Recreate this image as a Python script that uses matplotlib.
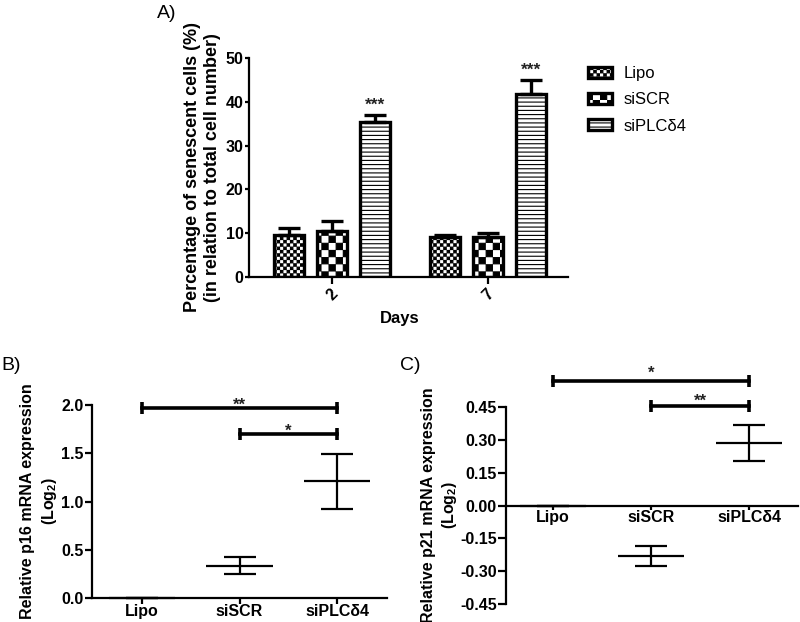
import numpy as np
import matplotlib
matplotlib.use("Agg")
import matplotlib.pyplot as plt
import matplotlib.hatch as mhatch
from matplotlib.path import Path

# ---------------- data ----------------
days = ["2", "7"]
groups = ["Lipo", "siSCR", "siPLCδ4"]
senescent_mean = {"Lipo": [9.7, 9.1], "siSCR": [10.5, 9.1], "siPLCδ4": [35.3, 41.8]}
senescent_err = {"Lipo": [1.5, 0.55], "siSCR": [2.35, 1.05], "siPLCδ4": [1.6, 3.1]}
senescent_stars = ["***", "***"]

p16_mean = [0.0, 0.335, 1.21]
p16_err = [0.0, 0.087, 0.285]
p16_yticks = [0.0, 0.5, 1.0, 1.5, 2.0]
p16_yticklabels = ["0.0", "0.5", "1.0", "1.5", "2.0"]
p16_brackets = [(0, 2, 1.97, "**"), (1, 2, 1.70, "*")]

p21_mean = [0.0, -0.230, 0.285]
p21_err = [0.0, 0.046, 0.081]
p21_yticks = [0.45, 0.30, 0.15, 0.00, -0.15, -0.30, -0.45]
p21_yticklabels = ["0.45", "0.30", "0.15", "0.00", "-0.15", "-0.30", "-0.45"]
p21_brackets = [(0, 2, 0.570, "*"), (1, 2, 0.456, "**")]

# ---------------- custom checker hatches ----------------
class _Checker(mhatch.HatchPatternBase):
    char = "o"
    cells = 30
    margin = 0.0045

    def __init__(self, hatch, density):
        self.n = self.cells if (hatch and self.char in hatch) else 0
        self.num_vertices = (self.n * self.n // 2) * 5

    def set_vertices_and_codes(self, vertices, codes):
        n = self.n
        s = 1.0 / n
        m = self.margin
        k = 0
        for i in range(n):
            for j in range(n):
                if (i + j) % 2 == 0:
                    x0, y0 = i * s + m, j * s + m
                    x1, y1 = (i + 1) * s - m, (j + 1) * s - m
                    vertices[k:k + 5] = [[x0, y0], [x1, y0], [x1, y1], [x0, y1], [x0, y0]]
                    codes[k:k + 5] = [Path.MOVETO, Path.LINETO, Path.LINETO,
                                      Path.LINETO, Path.CLOSEPOLY]
                    k += 5


class _CheckerSmall(_Checker):
    char = "o"
    cells = 30


class _CheckerLarge(_Checker):
    char = "O"
    cells = 14


mhatch._hatch_types = [mhatch.HorizontalHatch, _CheckerSmall, _CheckerLarge]

plt.rcParams["font.family"] = ["Liberation Sans", "DejaVu Sans"]
plt.rcParams["hatch.linewidth"] = 0.8
plt.rcParams["mathtext.fontset"] = "custom"
plt.rcParams["mathtext.rm"] = "Liberation Sans"
plt.rcParams["mathtext.bf"] = "Liberation Sans:bold"

W, H = 800, 622
fig = plt.figure(figsize=(8, 6.22), dpi=100)


def axes_px(left, right, top, bottom):
    return fig.add_axes([left / W, 1 - bottom / H, (right - left) / W, (bottom - top) / H])


def bold_ticks(ax, size=11.5):
    for lab in ax.get_xticklabels() + ax.get_yticklabels():
        lab.set_fontweight("bold")
        lab.set_fontsize(size)


# ---------------- Panel A ----------------
axA = axes_px(249, 568, 58, 277)
hatches = {"Lipo": "o", "siSCR": "O", "siPLCδ4": "----"}
offsets = [-0.276, 0.0, 0.276]
width = 0.19
xg = np.arange(len(days))
for g, off in zip(groups, offsets):
    axA.bar(xg + off, senescent_mean[g], width, facecolor="white", edgecolor="black",
            linewidth=2.4, hatch=hatches[g], label=g, zorder=2)
    axA.errorbar(xg + off, senescent_mean[g],
                 yerr=[np.zeros(len(days)), senescent_err[g]],
                 fmt="none", ecolor="black", elinewidth=2.4, capsize=8, capthick=2.4, zorder=3)
top_means = np.array(senescent_mean["siPLCδ4"]) + np.array(senescent_err["siPLCδ4"])
for xi, yv, s in zip(xg + offsets[2], top_means, senescent_stars):
    axA.annotate(s, (xi, yv), xytext=(0, 4), textcoords="offset points",
                 ha="center", va="baseline", fontsize=12.5, fontweight="bold", color="#222222")
axA.set_xlim(-0.532, 1.513)
axA.set_ylim(0, 50)
axA.set_yticks([0, 10, 20, 30, 40, 50])
axA.set_xticks(xg)
axA.set_xticklabels(days, rotation=45, ha="center")
for sp in ["top", "right"]:
    axA.spines[sp].set_visible(False)
for sp in ["left", "bottom"]:
    axA.spines[sp].set_linewidth(1.6)
axA.tick_params(axis="y", length=3, width=1.6, pad=1)
axA.tick_params(axis="x", length=5, width=1.6, pad=2)
bold_ticks(axA, 11.5)
axA.set_xlabel("Days", fontsize=12, fontweight="bold")
axA.xaxis.set_label_coords((400 - 249) / (568 - 249), (277 - 319) / (277 - 58))
axA.xaxis.label.set_va("center")
axA.set_ylabel("Percentage of senescent cells (%)\n(in relation to total cell number)",
               fontsize=13, fontweight="bold", linespacing=1.2, va="center")
axA.yaxis.set_label_coords((202.5 - 249) / (568 - 249), 0.5)
leg = axA.legend(loc="upper left", bbox_to_anchor=(588 / W, 1 - 66 / H),
                 bbox_transform=fig.transFigure, frameon=False, fontsize=12,
                 handlelength=1.45, handleheight=0.65, handletextpad=0.7,
                 labelspacing=0.68, borderpad=0, borderaxespad=0)

# ---------------- Panel B / C helper ----------------
def dot_panel(ax, means, errs, brackets, star_offsets):
    x = np.arange(len(groups))
    ax.hlines(means, x - 0.34, x + 0.34, colors="black", linewidth=1.6, clip_on=False, zorder=3)
    ax.errorbar(x, means, yerr=errs, fmt="none", ecolor="black", elinewidth=1.6,
                capsize=11.5, capthick=1.6, zorder=3, clip_on=False)
    for (a, b, y, s), so in zip(brackets, star_offsets):
        ax.plot([a, b], [y, y], color="black", linewidth=2.6, marker="|",
                markersize=9, markeredgewidth=2.6, clip_on=False, zorder=4)
        ax.annotate(s, ((a + b) / 2, y), xytext=(0, so), textcoords="offset points",
                    ha="center", va="baseline", fontsize=12, fontweight="bold",
                    color="#222222", annotation_clip=False)
    ax.set_xticks(x)
    ax.set_xticklabels(groups)
    for sp in ["top", "right"]:
        ax.spines[sp].set_visible(False)
    for sp in ["left", "bottom"]:
        ax.spines[sp].set_linewidth(1.6)


# ---------------- Panel B ----------------
axB = axes_px(92, 387, 405, 598)
dot_panel(axB, p16_mean, p16_err, p16_brackets, [-1, -1])
axB.set_xlim(-0.51, 2.51)
axB.set_ylim(0, 2.0)
axB.set_yticks(p16_yticks)
axB.set_yticklabels(p16_yticklabels)
axB.tick_params(axis="y", length=5, width=1.6, pad=1)
axB.tick_params(axis="x", length=4.5, width=1.6, pad=0)
bold_ticks(axB, 11.5)
axB.set_ylabel("Relative p16 mRNA expression\n(Log$_\\mathbf{2}$)", fontsize=11.5,
               fontweight="bold", linespacing=1.35, va="center")
axB.yaxis.set_label_coords((39.5 - 92) / (387 - 92), 0.5)

# ---------------- Panel C ----------------
axC = axes_px(506, 798, 407, 604)
dot_panel(axC, p21_mean, p21_err, p21_brackets, [2, 0])
axC.set_xlim(-0.48, 2.50)
axC.set_ylim(-0.45, 0.45)
axC.spines["bottom"].set_position(("data", 0))
axC.set_yticks(p21_yticks)
axC.set_yticklabels(p21_yticklabels)
axC.tick_params(axis="y", length=5.5, width=1.6, pad=1)
axC.tick_params(axis="x", length=3, width=1.6, pad=0)
bold_ticks(axC, 11.5)
axC.set_ylabel("Relative p21 mRNA expression\n(Log$_\\mathbf{2}$)", fontsize=11.5,
               fontweight="bold", linespacing=1.35, va="center")
axC.yaxis.set_label_coords((440 - 506) / (798 - 506), 0.5)

# ---------------- panel letters ----------------
fig.text(167 / W, 1 - 13 / H, "A)", fontsize=14, ha="center", va="center")
fig.text(11 / W, 1 - 365 / H, "B)", fontsize=14, ha="center", va="center")
fig.text(410 / W, 1 - 365 / H, "C)", fontsize=14, ha="center", va="center")

fig.savefig("out.png", dpi=100)
